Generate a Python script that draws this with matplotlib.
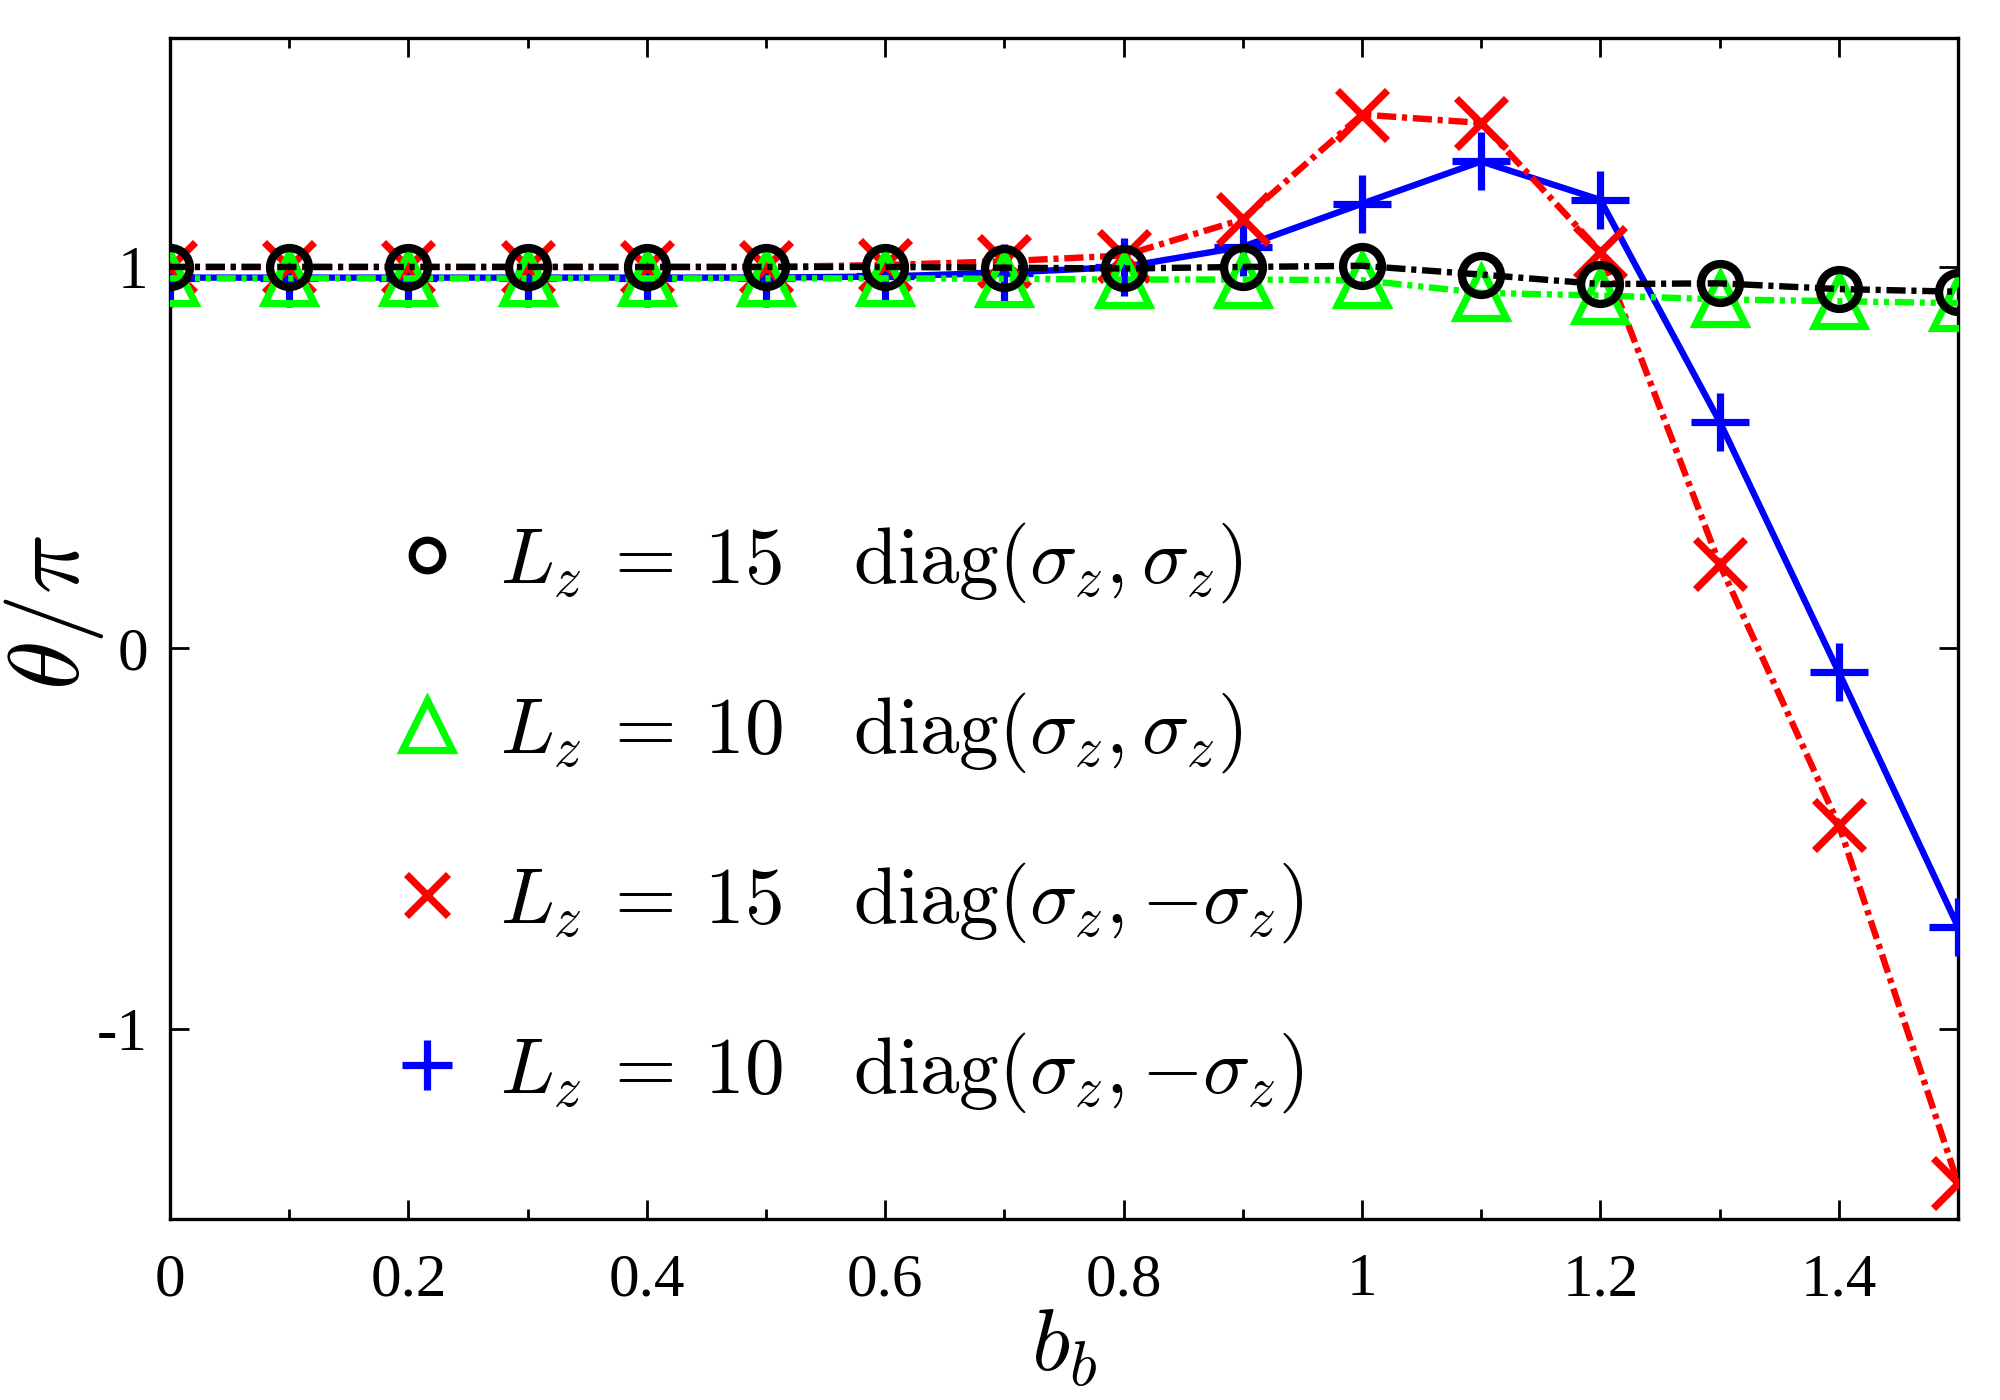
import numpy as np
import matplotlib
matplotlib.use("Agg")
import matplotlib.pyplot as plt
from matplotlib.lines import Line2D
from matplotlib.ticker import FixedLocator

plt.rcParams['font.family'] = ['Liberation Serif', 'DejaVu Serif']
plt.rcParams['mathtext.fontset'] = 'cm'
plt.rcParams['axes.unicode_minus'] = False

# data
b_b = [0.0, 0.1, 0.2, 0.3, 0.4, 0.5, 0.6, 0.7, 0.8, 0.9, 1.0, 1.1, 1.2, 1.3, 1.4, 1.5]
lz15_same = [1.0, 1.0, 1.0, 1.0, 1.0, 1.0, 1.0, 0.998, 0.996, 1.0, 1.003, 0.98, 0.955, 0.957, 0.942, 0.935]
lz10_same = [0.970, 0.970, 0.970, 0.970, 0.970, 0.970, 0.970, 0.969, 0.967, 0.967, 0.965, 0.932, 0.925, 0.915, 0.910, 0.905]
lz15_opp = [1.0, 1.0, 1.0, 1.0, 1.0, 1.0, 1.005, 1.015, 1.03, 1.125, 1.40, 1.378, 1.04, 0.22, -0.464, -1.405]
lz10_opp = [0.972, 0.972, 0.972, 0.972, 0.972, 0.972, 0.975, 0.985, 1.0, 1.053, 1.166, 1.277, 1.176, 0.594, -0.064, -0.732]

labels = [r'$L_z\:=\:15\quad\mathrm{diag}(\sigma_z,\sigma_z)$',
          r'$L_z\:=\:10\quad\mathrm{diag}(\sigma_z,\sigma_z)$',
          r'$L_z\:=\:15\quad\mathrm{diag}(\sigma_z,{-}\sigma_z)$',
          r'$L_z\:=\:10\quad\mathrm{diag}(\sigma_z,{-}\sigma_z)$']

fig = plt.figure(figsize=(10, 7), dpi=200)
ax = fig.add_axes([0.085, 0.129, 0.894, 0.8436])

lw = 2.3
dashdot = (0, (3, 0.9, 0.8, 0.9))
dashdotdot = (0, (3, 0.9, 0.8, 0.9, 0.8, 0.9))
ax.plot(b_b, lz10_opp, color='blue', ls='-', lw=lw, marker='+', ms=21, mew=2.6, zorder=3)
ax.plot(b_b, lz15_opp, color='red', ls=dashdot, lw=lw, marker='x', ms=18, mew=2.6, zorder=4)
ax.plot(b_b, lz10_same, color='#00ff00', ls=dashdotdot, lw=lw, marker='^', ms=18,
        mfc='none', mew=2.6, zorder=5)
ax.plot(b_b, lz15_same, color='black', ls=dashdot, lw=lw, marker='o', ms=14,
        mfc='none', mew=3.0, zorder=6)

handles = [Line2D([], [], ls='None', marker='o', color='black', ms=11, mfc='none', mew=2.6),
           Line2D([], [], ls='None', marker='^', color='#00ff00', ms=18, mfc='none', mew=2.6),
           Line2D([], [], ls='None', marker='x', color='red', ms=15, mew=2.6),
           Line2D([], [], ls='None', marker='+', color='blue', ms=18, mew=2.6)]
ax.legend(handles, labels, loc='center left', bbox_to_anchor=(0.082, 0.34), frameon=False,
          fontsize=28.5, labelspacing=1.08, handlelength=1.0, handletextpad=0.42)

ax.set_xlim(0, 1.5)
ax.set_ylim(-1.5, 1.6)
ax.xaxis.set_major_locator(FixedLocator([0, 0.2, 0.4, 0.6, 0.8, 1.0, 1.2, 1.4]))
ax.xaxis.set_minor_locator(FixedLocator([0.1, 0.3, 0.5, 0.7, 0.9, 1.1, 1.3]))
ax.set_xticklabels(['0', '0.2', '0.4', '0.6', '0.8', '1', '1.2', '1.4'])
ax.set_yticks([-1, 0, 1])
ax.set_yticklabels(['-1', '0', '1'])
ax.tick_params(which='both', direction='in', top=True, right=True, labelsize=22)
ax.tick_params(axis='x', pad=12)
ax.tick_params(axis='y', pad=8)
ax.tick_params(which='major', length=7, width=1.0)
ax.tick_params(which='minor', length=3.5, width=1.0)
for s in ax.spines.values():
    s.set_linewidth(1.2)

ax.set_xlabel(r'$b_b$', fontsize=32)
ax.set_ylabel(r'$\theta/\pi$', fontsize=36)
ax.xaxis.set_label_coords(0.5, -0.075)
ax.yaxis.set_label_coords(-0.036, 0.514)

fig.savefig('out.png', dpi=200)
